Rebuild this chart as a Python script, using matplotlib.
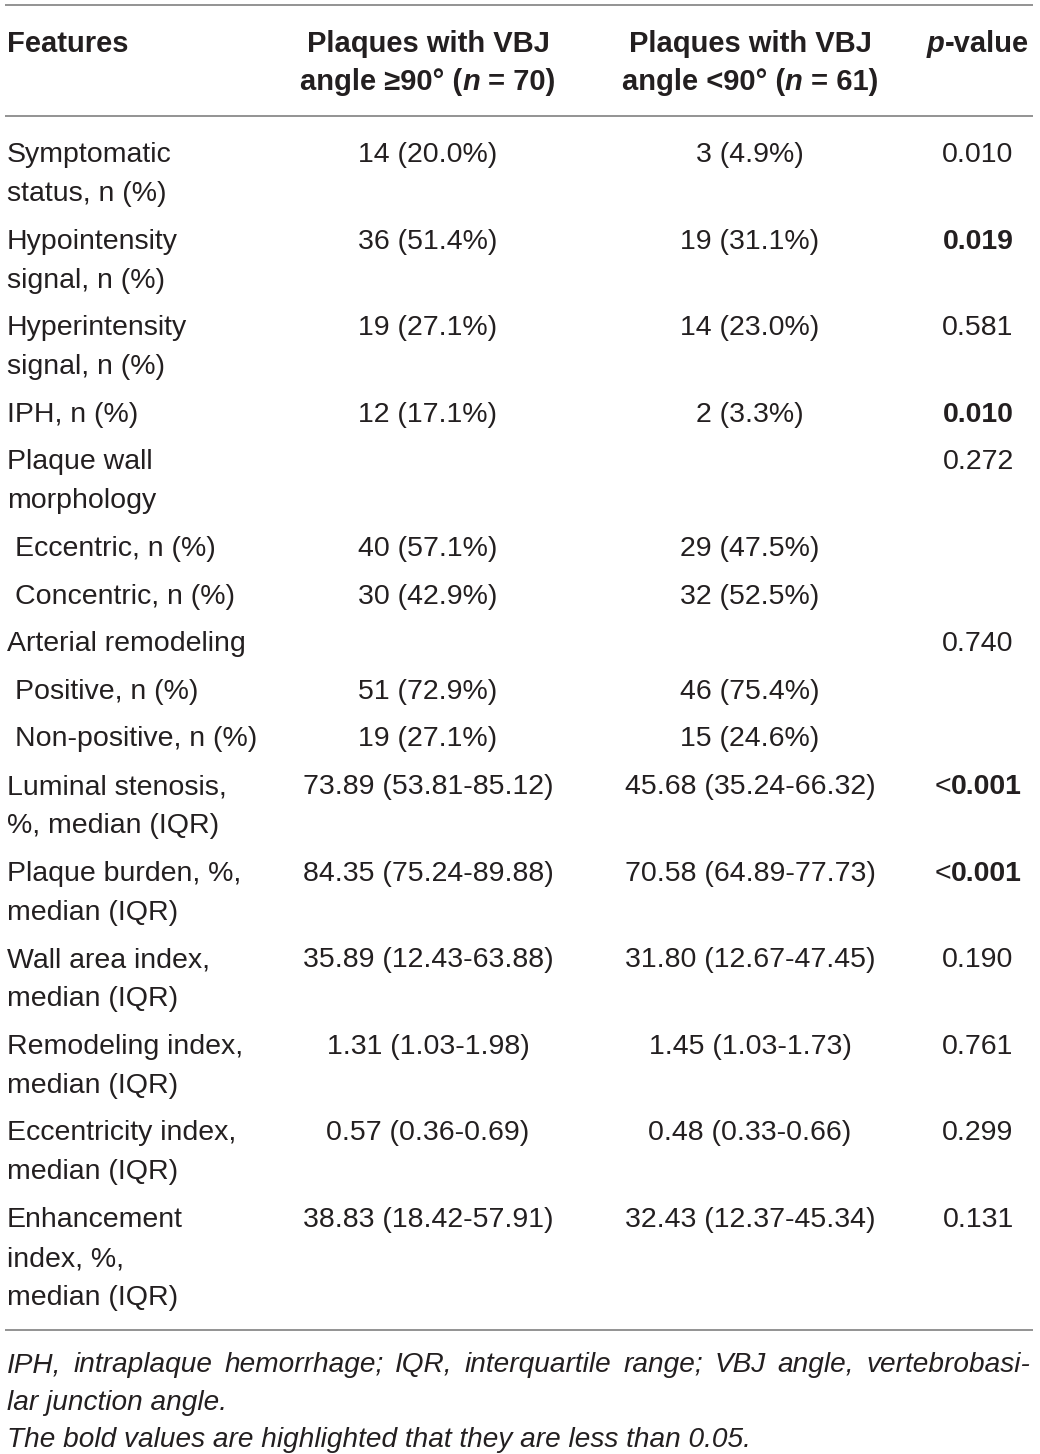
import matplotlib
matplotlib.use("Agg")
import matplotlib.pyplot as plt

# Table content
features = [
    ["Symptomatic", "status, n (%)"],
    ["Hypointensity", "signal, n (%)"],
    ["Hyperintensity", "signal, n (%)"],
    ["IPH, n (%)"],
    ["Plaque wall", "morphology"],
    [" Eccentric, n (%)"],
    [" Concentric, n (%)"],
    ["Arterial remodeling"],
    [" Positive, n (%)"],
    [" Non-positive, n (%)"],
    ["Luminal stenosis,", "%, median (IQR)"],
    ["Plaque burden, %,", "median (IQR)"],
    ["Wall area index,", "median (IQR)"],
    ["Remodeling index,", "median (IQR)"],
    ["Eccentricity index,", "median (IQR)"],
    ["Enhancement", "index, %,", "median (IQR)"],
]
angle_ge90 = ["14 (20.0%)", "36 (51.4%)", "19 (27.1%)", "12 (17.1%)", "",
              "40 (57.1%)", "30 (42.9%)", "", "51 (72.9%)", "19 (27.1%)",
              "73.89 (53.81-85.12)", "84.35 (75.24-89.88)", "35.89 (12.43-63.88)",
              "1.31 (1.03-1.98)", "0.57 (0.36-0.69)", "38.83 (18.42-57.91)"]
angle_lt90 = ["3 (4.9%)", "19 (31.1%)", "14 (23.0%)", "2 (3.3%)", "",
              "29 (47.5%)", "32 (52.5%)", "", "46 (75.4%)", "15 (24.6%)",
              "45.68 (35.24-66.32)", "70.58 (64.89-77.73)", "31.80 (12.67-47.45)",
              "1.45 (1.03-1.73)", "0.48 (0.33-0.66)", "32.43 (12.37-45.34)"]
p_values = ["0.010", "0.019", "0.581", "0.010", "0.272", "", "", "0.740", "", "",
            "<0.001", "<0.001", "0.190", "0.761", "0.299", "0.131"]
p_bold = [False, True, False, True, False, False, False, False, False, False,
          True, True, False, False, False, False]

footnote_1 = "IPH, intraplaque hemorrhage; IQR, interquartile range; VBJ angle, vertebrobasi-"
footnote_2 = "lar junction angle."
footnote_3 = "The bold values are highlighted that they are less than 0.05."

FONT = "Liberation Sans"
SIZE = 20.5      # body text
SIZE_HEAD = 21   # bold header
SIZE_NOTE = 20.2 # italic footnote
INK = "#231f20"
RULE = "#8a8a8a"

W, H = 1040, 1454
fig = plt.figure(figsize=(W / 100, H / 100), dpi=100)
ax = fig.add_axes([0, 0, 1, 1])
ax.set_xlim(0, W)
ax.set_ylim(H, 0)
ax.axis("off")
renderer = fig.canvas.get_renderer()

STYLES = {"r": ("normal", "normal"), "b": ("bold", "normal"),
          "i": ("normal", "italic"), "bi": ("bold", "italic")}


def text_width(s, st, size):
    w, s_ = STYLES[st]
    t = ax.text(0, 0, s, fontsize=size, family=FONT, fontweight=w, fontstyle=s_)
    wd = t.get_window_extent(renderer).width
    t.remove()
    return wd


def space_width(st, size):
    return text_width("n n", st, size) - text_width("nn", st, size)


def draw_runs(x, y, runs, ha="left", size=SIZE):
    # runs: list of (text, style); spaces at run edges handled explicitly
    pieces = []
    total = 0
    for s, st in runs:
        lead = len(s) - len(s.lstrip(" "))
        trail = len(s) - len(s.rstrip(" "))
        core = s.strip(" ")
        total += lead * space_width(st, size)
        pieces.append((core, st, total))
        total += text_width(core, st, size) if core else 0
        total += trail * space_width(st, size)
    if ha == "center":
        x0 = x - total / 2
    elif ha == "right":
        x0 = x - total
    else:
        x0 = x
    for core, st, off in pieces:
        w, s_ = STYLES[st]
        ax.text(x0 + off, y, core, fontsize=size, family=FONT, fontweight=w,
                fontstyle=s_, color=INK, va="baseline", ha="left")


def draw_justified(x0, x1, y, line, st, size):
    words = line.split(" ")
    widths = [text_width(wd, st, size) for wd in words]
    gap = (x1 - x0 - sum(widths)) / (len(words) - 1)
    x = x0
    for wd, wdw in zip(words, widths):
        draw_runs(x, y, [(wd, st)], size=size)
        x += wdw + gap


X_FEAT, X_C2, X_C3, X_P = 7, 428, 750, 978

# rules
for yr in (5, 116, 1330):
    ax.plot([5, 1033], [yr, yr], color=RULE, lw=1.3, solid_capstyle="butt")

# header (baselines)
draw_runs(X_FEAT, 52, [("Features", "b")], size=SIZE_HEAD)
draw_runs(X_C2, 52, [("Plaques with VBJ", "b")], ha="center", size=SIZE_HEAD)
draw_runs(X_C2, 90, [("angle \u226590\u00b0 (", "b"), ("n", "bi"), (" = 70)", "b")],
          ha="center", size=SIZE_HEAD)
draw_runs(X_C3, 52, [("Plaques with VBJ", "b")], ha="center", size=SIZE_HEAD)
draw_runs(X_C3, 90, [("angle <90\u00b0 (", "b"), ("n", "bi"), (" = 61)", "b")],
          ha="center", size=SIZE_HEAD)
draw_runs(X_P, 52, [("p", "bi"), ("-value", "b")], ha="center", size=SIZE_HEAD)

# body
LINE = 39
GAP = 47.6
y = 162
for i, lines in enumerate(features):
    for k, ln in enumerate(lines):
        lead = len(ln) - len(ln.lstrip(" "))
        draw_runs(X_FEAT + lead * 8, y + k * LINE, [(ln.strip(), "r")])
    if angle_ge90[i]:
        draw_runs(X_C2, y, [(angle_ge90[i], "r")], ha="center")
    if angle_lt90[i]:
        draw_runs(X_C3, y, [(angle_lt90[i], "r")], ha="center")
    pv = p_values[i]
    if pv:
        if p_bold[i]:
            if pv.startswith("<"):
                draw_runs(X_P, y, [("<", "r"), (pv[1:], "b")], ha="center")
            else:
                draw_runs(X_P, y, [(pv, "b")], ha="center")
        else:
            draw_runs(X_P, y, [(pv, "r")], ha="center")
    y += (len(lines) - 1) * LINE + GAP

# footnote
draw_justified(7, 1030, 1372, footnote_1, "i", SIZE_NOTE)
draw_runs(7, 1410, [(footnote_2, "i")], size=SIZE_NOTE)
draw_runs(7, 1447, [(footnote_3, "i")], size=SIZE_NOTE)

fig.savefig("out.png", dpi=100)
